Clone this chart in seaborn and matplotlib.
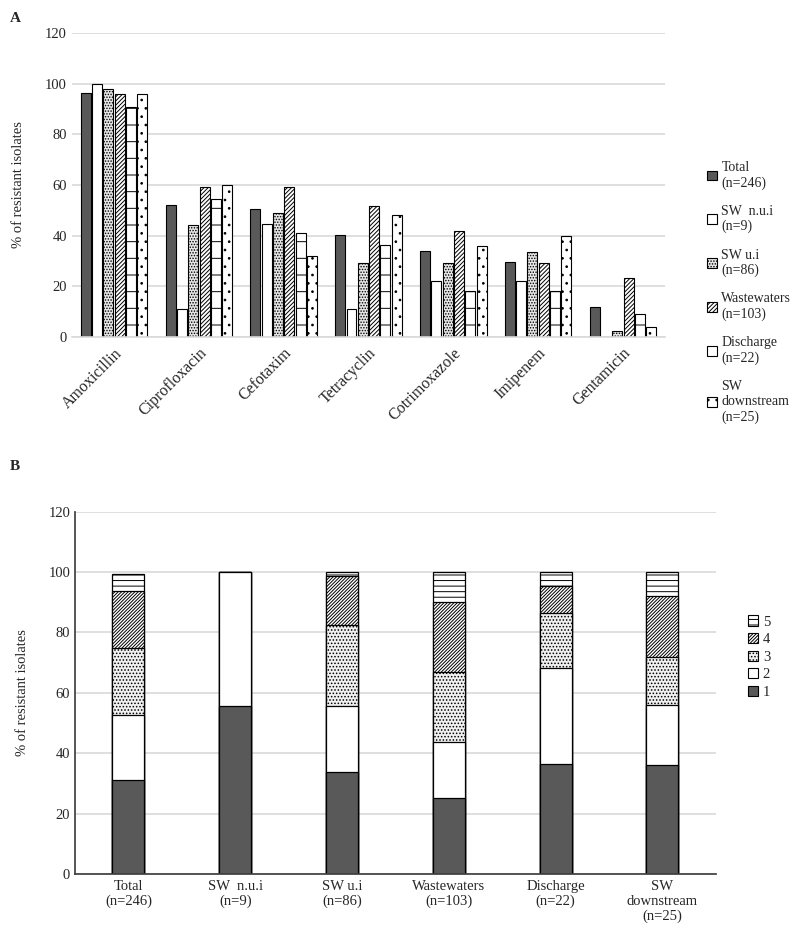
import matplotlib
matplotlib.use("Agg")
import matplotlib.pyplot as plt
from matplotlib.patches import Patch
import numpy as np
import pandas as pd
import seaborn as sns

antibiotics = ["Amoxicillin", "Ciprofloxacin", "Cefotaxim", "Tetracyclin",
               "Cotrimoxazole", "Imipenem", "Gentamicin"]
groups = ["Total\n(n=246)", "SW  n.u.i\n(n=9)", "SW u.i\n(n=86)",
          "Wastewaters\n(n=103)", "Discharge\n(n=22)", "SW\ndownstream\n(n=25)"]

total = [96.4, 51.9, 50.6, 40.4, 34.1, 29.5, 11.9]
sw_nui = [100.0, 11.1, 44.4, 11.1, 22.2, 22.2, 0.0]
sw_ui = [97.7, 44.2, 48.8, 29.1, 29.1, 33.7, 2.3]
wastewaters = [96.1, 59.2, 59.2, 51.5, 41.7, 29.1, 23.3]
discharge = [90.9, 54.5, 40.9, 36.4, 18.2, 18.2, 9.1]
sw_down = [96.0, 60.0, 32.0, 48.0, 36.0, 40.0, 4.0]

# panel B: share of isolates resistant to 1..5 antibiotics
n_res_1 = [31.2, 55.6, 33.7, 25.2, 36.4, 36.0]
n_res_2 = [21.6, 44.4, 22.1, 18.4, 31.8, 20.0]
n_res_3 = [22.1, 0.0, 26.7, 23.3, 18.2, 16.0]
n_res_4 = [18.8, 0.0, 16.3, 23.3, 9.1, 20.0]
n_res_5 = [5.6, 0.0, 1.2, 9.7, 4.5, 8.0]

FONT = ["Liberation Serif", "DejaVu Serif"]
GRID = "#d9d9d9"

A_STYLE = [("#595959", ""), ("white", ""), ("#e6e6e6", "......"),
           ("white", "////////"), ("white", "-"), ("white", "..")]
B_STYLE = [("#595959", ""), ("white", ""), ("#f0f0f0", "....."),
           ("white", "//////////"), ("white", "---")]


def panel_a(ax):
    series = [total, sw_nui, sw_ui, wastewaters, discharge, sw_down]
    rows = []
    for g, vals in zip(groups, series):
        for ab, v in zip(antibiotics, vals):
            rows.append({"antibiotic": ab, "group": g, "pct": v})
    df = pd.DataFrame(rows)
    sns.barplot(data=df, x="antibiotic", y="pct", hue="group", ax=ax,
                width=0.8, gap=0.12, legend=False, errorbar=None)
    for cont, (fc, hatch) in zip(ax.containers, A_STYLE):
        for p in cont:
            p.set_facecolor(fc)
            p.set_edgecolor("black")
            p.set_linewidth(0.8)
            p.set_hatch(hatch)

    ax.set_ylim(0, 120)
    ax.set_yticks(range(0, 121, 20))
    ax.yaxis.grid(True, color=GRID, linewidth=1.2)
    ax.set_axisbelow(True)
    for s in ["top", "right", "left"]:
        ax.spines[s].set_visible(False)
    ax.spines["bottom"].set_color(GRID)
    ax.spines["bottom"].set_linewidth(1.2)
    ax.tick_params(length=0, labelsize=10.5)
    ax.set_xticks(range(len(antibiotics)))
    ax.set_xticklabels(antibiotics, rotation=45, ha="right",
                       rotation_mode="anchor", fontsize=11.5)
    ax.tick_params(axis="x", pad=6)
    ax.set_xlabel("")
    ax.set_ylabel("% of resistant isolates", fontsize=10.5, labelpad=14)

    handles = [Patch(facecolor=fc, edgecolor="black", hatch=h, linewidth=0.8)
               for fc, h in A_STYLE]
    ax.legend(handles, groups, loc="upper left", bbox_to_anchor=(1.05, 0.62),
              frameon=False, fontsize=10, handlelength=0.7, handleheight=0.7,
              handletextpad=0.3, labelspacing=1.1, borderaxespad=0.5)


def panel_b(ax):
    layers = [n_res_1, n_res_2, n_res_3, n_res_4, n_res_5]
    cum = np.cumsum(np.array(layers), axis=0)
    # draw from the top layer down so each lower cumulative bar covers the rest
    for k in range(len(layers) - 1, -1, -1):
        df = pd.DataFrame({"group": groups, "pct": cum[k]})
        sns.barplot(data=df, x="group", y="pct", ax=ax, width=0.3,
                    errorbar=None, color=B_STYLE[k][0])
        fc, hatch = B_STYLE[k]
        for p in ax.containers[-1]:
            p.set_facecolor(fc)
            p.set_edgecolor("black")
            p.set_linewidth(0.9)
            p.set_hatch(hatch)

    ax.set_ylim(0, 120)
    ax.set_xlim(-0.5, len(groups) - 0.5)
    ax.set_yticks(range(0, 121, 20))
    ax.yaxis.grid(True, color=GRID, linewidth=1.2)
    ax.set_axisbelow(True)
    for s in ["top", "right"]:
        ax.spines[s].set_visible(False)
    ax.spines["left"].set_color("#404040")
    ax.spines["bottom"].set_color("#404040")
    ax.tick_params(axis="y", length=0, labelsize=10.5)
    ax.tick_params(axis="x", which="major", length=0, labelsize=10.5, pad=4)
    ax.set_xticks(np.arange(-0.5, len(groups)), minor=True)
    ax.tick_params(axis="x", which="minor", length=6, color="#404040")
    ax.set_xlabel("")
    ax.set_ylabel("% of resistant isolates", fontsize=10.5, labelpad=14)

    handles = [Patch(facecolor=fc, edgecolor="black", hatch=h, linewidth=0.8)
               for fc, h in B_STYLE][::-1]
    ax.legend(handles, ["5", "4", "3", "2", "1"], loc="upper left",
              bbox_to_anchor=(1.03, 0.75), frameon=False, fontsize=10.5,
              handlelength=0.7, handleheight=0.7, handletextpad=0.3,
              labelspacing=0.3)


def main():
    sns.set_theme(style="white")
    plt.rcParams["font.family"] = FONT
    plt.rcParams["hatch.linewidth"] = 0.7

    fig = plt.figure(figsize=(8, 9.42), dpi=100)
    ax_a = fig.add_axes([0.0896, 0.6423, 0.742, 0.3227])
    ax_b = fig.add_axes([0.0938, 0.0722, 0.801, 0.3846])
    panel_a(ax_a)
    panel_b(ax_b)
    fig.text(0.012, 0.987, "A", fontsize=11, fontweight="bold", va="top")
    fig.text(0.012, 0.512, "B", fontsize=11, fontweight="bold", va="top")
    fig.savefig("out.png", dpi=100)


if __name__ == "__main__":
    main()
